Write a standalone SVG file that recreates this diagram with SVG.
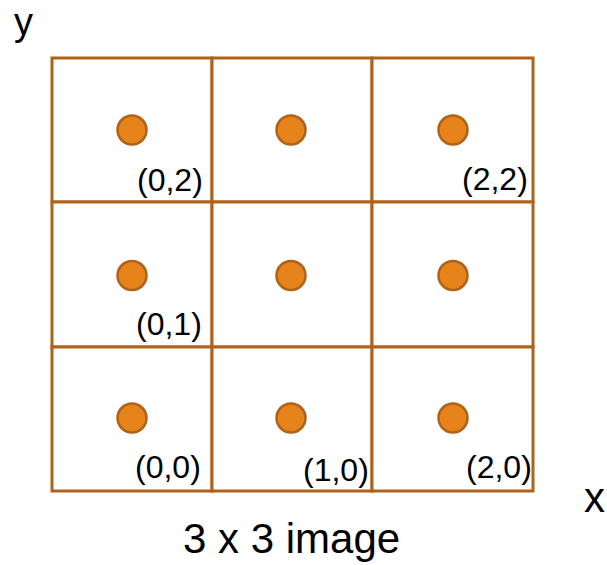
<svg xmlns="http://www.w3.org/2000/svg" width="607" height="565" viewBox="0 0 607 565">
<style>
.cell{fill:#fff;stroke:#B0621A;stroke-width:3}
.dot{fill:#E6831A;stroke:#B0621A;stroke-width:2.5}
.lbl{font-family:"Liberation Sans",Arial,sans-serif;font-size:32px;fill:#000}
.big{font-family:"Liberation Sans",Arial,sans-serif;font-size:42px;fill:#000}
</style>
<rect width="607" height="565" fill="#fff"/>
<g id="cell-0-2"><rect class="cell" x="52" y="58" width="160" height="144"/><circle class="dot" cx="132" cy="130" r="14.5"/><text class="lbl" x="137" y="191">(0,2)</text></g>
<g id="cell-1-2"><rect class="cell" x="212" y="58" width="160" height="144"/><circle class="dot" cx="291" cy="130" r="14.5"/></g>
<g id="cell-2-2"><rect class="cell" x="372" y="58" width="161" height="144"/><circle class="dot" cx="453" cy="130" r="14.5"/><text class="lbl" x="462" y="190">(2,2)</text></g>
<g id="cell-0-1"><rect class="cell" x="52" y="202" width="160" height="145"/><circle class="dot" cx="132" cy="275.5" r="14.5"/><text class="lbl" x="136" y="335">(0,1)</text></g>
<g id="cell-1-1"><rect class="cell" x="212" y="202" width="160" height="145"/><circle class="dot" cx="291" cy="275.5" r="14.5"/></g>
<g id="cell-2-1"><rect class="cell" x="372" y="202" width="161" height="145"/><circle class="dot" cx="453" cy="275.5" r="14.5"/></g>
<g id="cell-0-0"><rect class="cell" x="52" y="347" width="160" height="144"/><circle class="dot" cx="132" cy="418" r="14.5"/><text class="lbl" x="135" y="478">(0,0)</text></g>
<g id="cell-1-0"><rect class="cell" x="212" y="347" width="160" height="144"/><circle class="dot" cx="291" cy="418" r="14.5"/><text class="lbl" x="303" y="481">(1,0)</text></g>
<g id="cell-2-0"><rect class="cell" x="372" y="347" width="161" height="144"/><circle class="dot" cx="453" cy="418" r="14.5"/><text class="lbl" x="466" y="478">(2,0)</text></g>
<g id="connectors"></g>
<g id="axis-y"><text class="big" x="14" y="35" style="font-size:38px">y</text></g>
<g id="axis-x"><text class="big" x="584" y="512">x</text></g>
<g id="caption"><text class="big" x="183" y="553">3 x 3 image</text></g>
</svg>
